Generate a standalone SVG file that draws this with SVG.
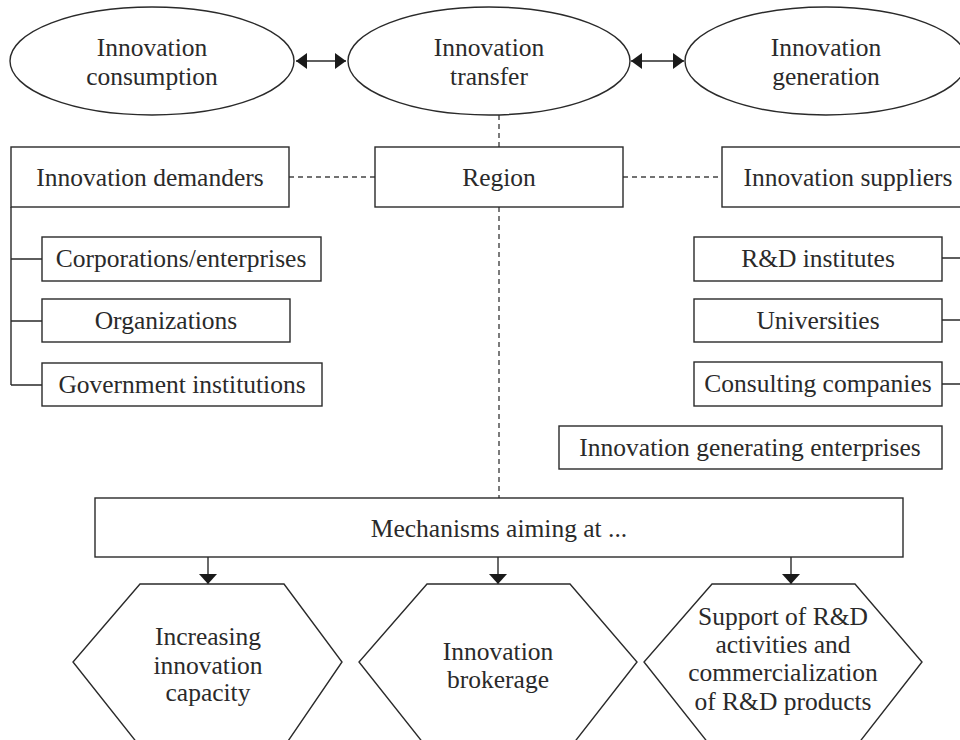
<svg xmlns="http://www.w3.org/2000/svg" width="960" height="740" viewBox="0 0 960 740">
<style>
  .shape { fill: #ffffff; stroke: #2a2a2a; stroke-width: 1.4; }
  .line { fill: none; stroke: #2a2a2a; stroke-width: 1.4; }
  .dash { fill: none; stroke: #444444; stroke-width: 1.4; stroke-dasharray: 5 4; }
  text { font-family: "Liberation Serif", "Times New Roman", serif; font-size: 25.5px; fill: #2a2a2a; text-anchor: middle; }
</style>
<defs>
  <marker id="arr" viewBox="0 0 11 16" refX="11" refY="8" markerWidth="11" markerHeight="16" markerUnits="userSpaceOnUse" orient="auto-start-reverse">
    <path d="M0,0 L11,8 L0,16 Z" fill="#1a1a1a"/>
  </marker>
  <marker id="arrd" viewBox="0 0 18 10" refX="9" refY="10" markerWidth="18" markerHeight="10" markerUnits="userSpaceOnUse" orient="0">
    <path d="M0,0 L18,0 L9,10 Z" fill="#1a1a1a"/>
  </marker>
</defs>

<g id="connectors">
  <line class="line" x1="296" y1="61" x2="346" y2="61" marker-start="url(#arr)" marker-end="url(#arr)"/>
  <line class="line" x1="631" y1="61" x2="684" y2="61" marker-start="url(#arr)" marker-end="url(#arr)"/>
  <line class="dash" x1="499" y1="115" x2="499" y2="147"/>
  <line class="dash" x1="499" y1="207" x2="499" y2="498"/>
  <line class="dash" x1="289" y1="177" x2="375" y2="177"/>
  <line class="dash" x1="623" y1="177" x2="722" y2="177"/>
  <path class="line" d="M11,207 L11,385 M11,259 L42,259 M11,321 L42,321 M11,385 L42,385"/>
  <path class="line" d="M942,258 L961,258 M942,320 L961,320 M942,384 L961,384"/>
  <line class="line" x1="208" y1="557" x2="208" y2="584" marker-end="url(#arrd)"/>
  <line class="line" x1="498" y1="557" x2="498" y2="584" marker-end="url(#arrd)"/>
  <line class="line" x1="791" y1="557" x2="791" y2="584" marker-end="url(#arrd)"/>
</g>

<g id="innovation-consumption">
  <ellipse class="shape" cx="152" cy="61" rx="142" ry="54"/>
  <text x="152" y="56">Innovation</text>
  <text x="152" y="85">consumption</text>
</g>
<g id="innovation-transfer">
  <ellipse class="shape" cx="489" cy="61" rx="141" ry="54"/>
  <text x="489" y="56">Innovation</text>
  <text x="489" y="85">transfer</text>
</g>
<g id="innovation-generation">
  <ellipse class="shape" cx="826" cy="61" rx="141" ry="54"/>
  <text x="826" y="56">Innovation</text>
  <text x="826" y="85">generation</text>
</g>

<g id="innovation-demanders">
  <rect class="shape" x="11" y="147" width="278" height="60"/>
  <text x="150" y="186">Innovation demanders</text>
</g>
<g id="region">
  <rect class="shape" x="375" y="147" width="248" height="60"/>
  <text x="499" y="186">Region</text>
</g>
<g id="innovation-suppliers">
  <rect class="shape" x="722" y="147" width="250" height="60"/>
  <text x="848" y="186">Innovation suppliers</text>
</g>

<g id="corporations">
  <rect class="shape" x="42" y="237" width="279" height="44"/>
  <text x="181" y="267">Corporations/enterprises</text>
</g>
<g id="organizations">
  <rect class="shape" x="42" y="299" width="248" height="43"/>
  <text x="166" y="329">Organizations</text>
</g>
<g id="government">
  <rect class="shape" x="42" y="363" width="280" height="43"/>
  <text x="182" y="393">Government institutions</text>
</g>

<g id="rd-institutes">
  <rect class="shape" x="694" y="237" width="248" height="44"/>
  <text x="818" y="267">R&amp;D institutes</text>
</g>
<g id="universities">
  <rect class="shape" x="694" y="299" width="248" height="43"/>
  <text x="818" y="329">Universities</text>
</g>
<g id="consulting">
  <rect class="shape" x="694" y="362" width="248" height="44"/>
  <text x="818" y="392">Consulting companies</text>
</g>
<g id="generating-enterprises">
  <rect class="shape" x="559" y="426" width="383" height="43"/>
  <text x="750" y="456">Innovation generating enterprises</text>
</g>

<g id="mechanisms">
  <rect class="shape" x="95" y="498" width="808" height="59"/>
  <text x="499" y="537">Mechanisms aiming at ...</text>
</g>

<g id="increasing-capacity">
  <polygon class="shape" points="140,584 284,584 342,662 286,744 138,744 73,662"/>
  <text x="208" y="645">Increasing</text>
  <text x="208" y="674">innovation</text>
  <text x="208" y="701">capacity</text>
</g>
<g id="brokerage">
  <polygon class="shape" points="427,584 570,584 637,662 573,744 424,744 359,662"/>
  <text x="498" y="660">Innovation</text>
  <text x="498" y="688">brokerage</text>
</g>
<g id="support-rd">
  <polygon class="shape" points="712,584 855,584 922,662 858,744 709,744 644,662"/>
  <text x="783" y="625">Support of R&amp;D</text>
  <text x="783" y="653">activities and</text>
  <text x="783" y="681">commercialization</text>
  <text x="783" y="710">of R&amp;D products</text>
</g>
</svg>
